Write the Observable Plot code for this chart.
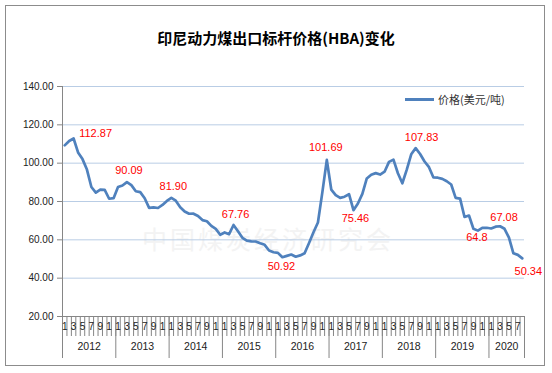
<!DOCTYPE html>
<html>
<head>
<meta charset="utf-8">
<script src="https://cdn.jsdelivr.net/npm/d3@7"></script>
<script src="https://cdn.jsdelivr.net/npm/@observablehq/plot@0.6"></script>
<style>
  html, body { margin: 0; padding: 0; background: #fff; }
  #wrap { position: relative; width: 552px; height: 373px; overflow: hidden; }
  #border { position: absolute; left: 5px; top: 5px; width: 540px; height: 361px; border: 1px solid #8c8c8c; box-sizing: border-box; }
  #title { position: absolute; left: 0; width: 552px; top: 27px; text-align: center; font: bold 15px "Noto Sans CJK SC", sans-serif; color: #000; }
  #legend { position: absolute; left: 405px; top: 91px; font: 11px "Noto Sans CJK SC", sans-serif; color: #333; display: flex; align-items: center; }
  #legend .sw { width: 29px; height: 3px; background: #4f81bd; margin-right: 4px; }
  #wm { position: absolute; left: 142px; top: 226px; font: 25px/1 "Noto Sans CJK SC", serif; color: #f3f3f3; letter-spacing: 3px; }
  #chart { position: absolute; left: 0; top: 0; }
</style>
</head>
<body>
<div id="wrap">
  <div id="wm">中国煤炭经济研究会</div>
  <div id="chart"></div>
  <div id="border"></div>
  <div id="title">印尼动力煤出口标杆价格(HBA)变化</div>
  <div id="legend"><div class="sw"></div><span>价格(美元/吨)</span></div>
</div>
<script>
// ---- data ----
const years = [2012, 2013, 2014, 2015, 2016, 2017, 2018, 2019, 2020];
const monthsPerYear = [12, 12, 12, 12, 12, 12, 12, 12, 8];
const monthTickText = ["1", "", "3", "", "5", "", "7", "", "9", "", "1", ""];
const prices = [
  // 2012
  109.29, 111.58, 112.87, 105.61, 102.12, 96.65, 87.56, 84.65, 86.21, 86.04, 81.44, 81.75,
  // 2013
  87.55, 88.35, 90.09, 88.56, 85.33, 84.87, 81.69, 76.70, 76.89, 76.61, 78.19, 80.31,
  // 2014
  81.90, 80.44, 77.01, 74.81, 73.60, 73.64, 72.45, 70.29, 69.69, 67.26, 65.70, 62.65,
  // 2015
  63.84, 62.92, 67.76, 64.48, 61.08, 59.59, 59.16, 59.14, 58.21, 57.39, 54.43, 53.51,
  // 2016
  53.20, 50.92, 51.62, 52.32, 51.20, 51.87, 53.00, 58.37, 63.93, 69.07, 84.89, 101.69,
  // 2017
  86.23, 83.32, 81.90, 82.51, 83.81, 75.46, 78.95, 83.97, 92.03, 93.99, 94.80, 94.04,
  // 2018
  95.54, 100.69, 101.86, 94.75, 89.53, 96.61, 104.65, 107.83, 104.81, 100.89, 97.90, 92.51,
  // 2019
  92.41, 91.80, 90.57, 88.85, 81.86, 81.48, 71.92, 72.67, 65.79, 64.80, 66.27, 66.30,
  // 2020
  65.93, 66.89, 67.08, 65.77, 61.11, 52.98, 52.16, 50.34
];
const labelIndex = [2, 14, 24, 38, 49, 59, 65, 79, 93, 98, 103];
const labelText = ["112.87", "90.09", "81.90", "67.76", "50.92", "101.69", "75.46", "107.83", "64.8", "67.08", "50.34"];
const yTicks = [20, 40, 60, 80, 100, 120, 140];

// ---- styling (label offsets in px) ----
const labelOffset = {
  2: [22, -5], 14: [2, -12], 24: [2, -11], 38: [2, -10], 49: [-1, 9], 59: [-1, -12],
  65: [2, 8], 79: [6, -11], 93: [-1, 7], 98: [4, -9], 103: [6, 13]
};

// ---- derived ----
const n = prices.length;
const data = prices.map((v, i) => ({x: i + 0.5, v}));
const yearStart = [];
let acc = 0;
for (const m of monthsPerYear) { yearStart.push(acc); acc += m; }
const yearBounds = [...yearStart, acc];
const yearCenters = yearStart.map((s, k) => s + monthsPerYear[k] / 2);
const monthTicks = d3.range(n).filter(i => monthTickText[i % 12] !== "").map(i => i + 0.5);
const labels = labelIndex.map((i, k) => ({x: i + 0.5, v: prices[i], text: labelText[k], key: i}));
const yearOf = c => years[yearCenters.indexOf(c)];

const chart = Plot.plot({
  width: 552,
  height: 373,
  marginLeft: 62,
  marginRight: 28,
  marginTop: 86,
  marginBottom: 57,
  x: {domain: [0, n], axis: null},
  y: {domain: [20, 140], axis: null},
  style: {fontFamily: "'Liberation Sans', Arial, sans-serif", fontSize: "10px", background: "transparent", color: "#333"},
  marks: [
    Plot.gridY(yTicks.filter(t => t > 20), {stroke: "#b9cde5", strokeOpacity: 1}),
    Plot.ruleX([0], {stroke: "#868686"}),
    Plot.ruleY([20], {stroke: "#868686"}),
    Plot.axisY({ticks: yTicks, label: null, tickSize: 5, tickPadding: 4, tickFormat: d => d.toFixed(2), stroke: "#868686", fill: "#222"}),
    Plot.axisX({ticks: d3.range(n + 1), label: null, tickSize: 20, tickFormat: () => "", stroke: "#868686"}),
    Plot.axisX({ticks: yearBounds, label: null, tickSize: 42, tickFormat: () => "", stroke: "#868686"}),
    Plot.axisX({ticks: monthTicks, label: null, tickSize: 0, tickPadding: 6, fontSize: 10, fill: "#222",
      tickFormat: d => monthTickText[Math.floor(d) % 12]}),
    Plot.axisX({ticks: yearCenters, label: null, tickSize: 0, tickPadding: 26, fontSize: 10.5, fill: "#222",
      tickFormat: d => String(yearOf(d))}),
    Plot.line(data, {x: "x", y: "v", stroke: "#4f81bd", strokeWidth: 2.7, strokeLinejoin: "round"}),
    ...labels.map(l => Plot.text([l], {
      x: "x", y: "v", text: "text", fill: "#ff0000", fontSize: 11,
      dx: labelOffset[l.key][0], dy: labelOffset[l.key][1]
    }))
  ]
});
document.getElementById("chart").appendChild(chart);
</script>
</body>
</html>
